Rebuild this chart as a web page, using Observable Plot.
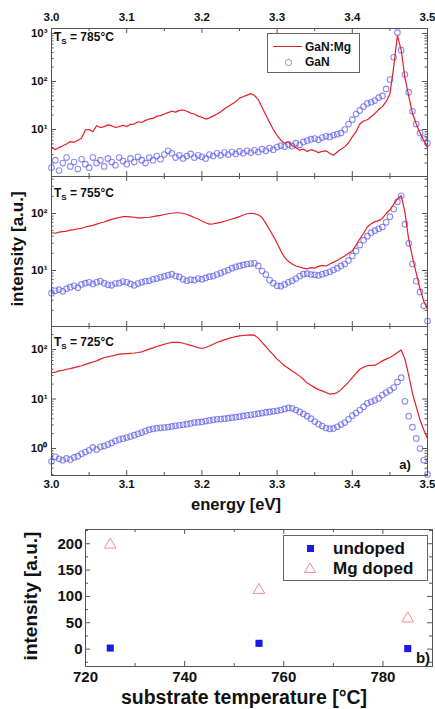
<!DOCTYPE html>
<html><head><meta charset="utf-8">
<script src="https://cdn.jsdelivr.net/npm/d3@7"></script>
<script src="https://cdn.jsdelivr.net/npm/@observablehq/plot@0.6"></script>
<style>
html,body{margin:0;padding:0;background:#fff;}
#root{position:relative;width:435px;height:709px;overflow:hidden;font-family:"Liberation Sans",Arial,sans-serif;font-weight:bold;color:#111;}
#root svg{position:absolute;left:0;overflow:visible;}
.lbl{position:absolute;white-space:nowrap;line-height:1;}
</style></head><body><div id="root"></div>
<script>
// ---------- data ----------
const energy = [3.000,3.005,3.010,3.015,3.020,3.025,3.030,3.035,3.040,3.045,
3.050,3.055,3.060,3.065,3.070,3.075,3.080,3.085,3.090,3.095,
3.100,3.105,3.110,3.115,3.120,3.125,3.130,3.135,3.140,3.145,
3.150,3.155,3.160,3.165,3.170,3.175,3.180,3.185,3.190,3.195,
3.200,3.205,3.210,3.215,3.220,3.225,3.230,3.235,3.240,3.245,
3.250,3.255,3.260,3.265,3.270,3.275,3.280,3.285,3.290,3.295,
3.300,3.305,3.310,3.315,3.320,3.325,3.330,3.335,3.340,3.345,
3.350,3.355,3.360,3.365,3.370,3.375,3.380,3.385,3.390,3.395,
3.400,3.405,3.410,3.415,3.420,3.425,3.430,3.435,3.440,3.445,
3.450,3.455,3.460,3.465,3.470,3.475,3.480,3.485,3.490,3.495,3.500];

// Ts = 785 °C
const mg785 = [4.4,3.8,4.2,4.6,5.0,5.6,5.4,6.0,6.6,9.8,
10.0,9.0,12.0,11.0,11.5,12.5,12.0,11.0,11.5,12.3,
11.5,12.8,13.0,14.5,14.0,15.5,16.6,17.0,19.0,19.5,
21.0,22.5,24.0,23.0,25.0,25.5,24.0,22.0,21.0,19.0,
18.0,16.5,17.5,19.0,21.0,23.5,27.0,30.0,34.0,38.0,
45.0,48.0,52.0,56.0,51.0,42.0,29.0,20.0,14.0,10.0,
7.5,6.0,5.2,5.5,4.6,4.2,3.7,3.9,3.5,3.8,
3.6,3.3,3.5,3.6,3.2,2.9,3.4,3.9,4.4,5.3,
7.0,9.0,13.0,15.0,16.0,18.5,21.5,26.0,30.0,38.0,
55.0,200.0,900.0,450.0,120.0,50.0,22.0,13.0,8.5,6.0,4.2];
const gan785 = [1.6,2.3,1.4,2.0,2.6,1.7,2.1,1.5,2.4,1.9,
1.6,2.6,2.0,2.3,1.7,2.5,2.1,1.8,2.6,2.2,
1.9,2.5,2.1,2.7,2.3,2.0,2.6,2.3,2.8,2.4,
3.0,3.6,3.2,2.6,2.9,2.5,2.8,3.1,2.6,2.9,
2.7,2.5,3.0,2.8,3.2,2.9,3.3,3.0,3.4,3.1,
3.5,3.2,3.6,3.3,3.7,3.4,3.9,3.6,4.1,3.8,
4.3,4.6,4.4,4.9,4.5,5.2,4.8,5.5,5.9,6.3,
6.5,6.1,6.8,7.2,7.0,7.6,8.0,8.5,10.0,13.0,
16.0,21.0,25.0,30.0,35.0,37.0,40.0,46.0,50.0,70.0,
110.0,320.0,1050.0,450.0,140.0,60.0,24.0,13.0,8.5,6.5,5.2];

// Ts = 755 °C
const mg755 = [46,45,47,48,49,51,52,54,55,58,
60,62,65,68,71,75,79,82,85,88,
88,87,86,84,84,85,86,88,91,93,
96,99,101,103,103,100,97,91,85,80,
74,69,65,66,68,70,73,76,80,84,
88,94,99,101,99,95,85,67,52,40,
30,22,17,14.5,13,12,11.5,11,10.7,11.2,
11,11.8,12.3,12,13,14,15,16.5,18,20,
22,28,36,45,58,66,72,75,82,100,
115,145,180,205,105,35,17,9,4.8,2.9,2.1];
const gan755 = [4.0,4.4,4.6,4.3,4.8,5.1,5.4,5.0,5.7,6.0,
6.2,5.8,6.2,6.5,6.0,5.6,5.5,5.9,6.0,6.4,
6.2,5.8,5.5,5.9,6.2,6.5,6.6,7.0,7.2,7.6,
7.9,8.3,8.6,8.0,7.7,7.0,6.6,6.9,6.8,7.2,
7.0,7.4,7.8,8.0,8.5,9.0,9.6,10.2,11.0,11.6,
12.0,12.5,13.0,13.2,13.4,12.0,9.8,8.5,6.8,6.0,
5.4,5.3,5.7,6.2,6.6,7.2,8.0,8.6,8.8,8.5,
8.4,8.2,8.6,9.0,9.5,10.2,11.0,12.0,13.0,15.0,
18.0,22.0,28.0,34.0,40.0,46.0,50.0,54.0,58.0,70.0,
88.0,120.0,160.0,205.0,65.0,30.0,13.0,6.5,4.2,2.4,1.3];

// Ts = 725 °C
const mg725 = [34,35,37,38,40,41,43,45,47,50,
53,56,59,64,69,71,74,77,81,82,
83,84,85,87,90,96,102,108,115,121,
128,134,139,140,139,134,128,121,115,109,
105,110,118,128,139,148,157,166,175,182,
189,192,195,197,195,170,139,115,94,78,
64,55,47,42,37,33,29,25,21,19,
17,15.5,14.6,13.5,12.6,12.8,13.5,15.5,18.5,22,
27,33,40,44,47,48,48,53,59,64,
69,77,87,98,64,30,13,7,3.8,2.4,1.6];
const gan725 = [0.55,0.68,0.62,0.58,0.63,0.60,0.66,0.70,0.78,0.85,
0.92,1.05,0.95,1.08,1.12,1.20,1.30,1.42,1.52,1.58,
1.66,1.75,1.86,1.98,2.10,2.25,2.40,2.50,2.58,2.62,
2.66,2.72,2.80,2.88,2.95,3.02,3.10,3.22,3.35,3.40,
3.45,3.58,3.70,3.80,3.90,3.95,4.00,4.10,4.20,4.30,
4.40,4.55,4.70,4.80,4.90,5.05,5.20,5.35,5.50,5.65,
5.80,6.00,6.30,6.60,6.50,6.00,5.50,5.00,4.50,4.00,
3.50,3.10,2.85,2.60,2.50,2.55,2.75,3.05,3.35,3.90,
4.60,5.20,6.00,7.00,8.20,8.80,9.40,10.3,12.0,13.5,
15.0,17.0,22.0,27.0,9.0,4.5,2.7,1.6,1.0,0.58,0.30];

// panel b
const temps = [725, 755, 785];
const undoped = [2, 11, 1];
const mgDoped = [198, 112, 58];

// tick labels
const energyTicks = [3.0, 3.1, 3.2, 3.3, 3.4, 3.5];
const energyMinor = [3.05, 3.15, 3.25, 3.35, 3.45];
const ticks785 = [10, 100, 1000];
const ticks755 = [10, 100];
const ticks725 = [1, 10, 100];
const tempTicks = [720, 740, 760, 780];
const tempMinor = [730, 750, 770, 790];
const intTicks = [0, 50, 100, 150, 200];
const intMinor = [-25, 25, 75, 125, 175, 225];

// ---------- drawing ----------
const root = document.getElementById("root");
const W = 435, ML = 51, MR = 8, IW = W - ML - MR;
const FRAME = "#555";
const BLUE = "#5050e8";
const RED = "#e41e26";
const sup = {"0": "\u2070", "1": "\u00b9", "2": "\u00b2", "3": "\u00b3"};
const logFmt = d => "10" + sup[String(Math.round(Math.log10(d)))];

function minorLog(domain) {
  const out = [];
  for (let k = Math.floor(Math.log10(domain[0])); k <= Math.ceil(Math.log10(domain[1])); k++)
    for (let m = 2; m <= 9; m++) {
      const v = m * Math.pow(10, k);
      if (v > domain[0] && v < domain[1]) out.push(v);
    }
  return out;
}

function panel({red, blue, domain, yTicks, top, bottom, mt, mb, xAxis}) {
  const ih = bottom - top;
  const rows = energy.map((e, i) => ({e, red: red[i], blue: blue[i]}));
  const yMinor = minorLog(domain);
  const svg = Plot.plot({
    width: W, height: ih + mt + mb,
    marginLeft: ML, marginRight: MR, marginTop: mt, marginBottom: mb,
    style: {background: "transparent", fontFamily: "'Liberation Sans', Arial, sans-serif", fontSize: "11.5px", fontWeight: "bold", color: "#111", overflow: "visible"},
    x: {domain: [3.0, 3.5], axis: xAxis, ticks: energyTicks, tickFormat: d3.format(".1f"), tickSize: 0, tickPadding: xAxis === "top" ? 8 : 4, label: null},
    y: {type: "log", domain, ticks: yTicks, tickFormat: logFmt, tickSize: 0, tickPadding: 4, label: null},
    marks: [
      Plot.dot(rows, {x: "e", y: "blue", r: 2.8, stroke: BLUE, strokeOpacity: 0.65, strokeWidth: 1.1, fill: "none"}),
      Plot.line(rows, {x: "e", y: "red", stroke: RED, strokeWidth: 1.2}),
      Plot.tickY(yTicks, {y: d => d, insetRight: IW - 5, stroke: FRAME}),
      Plot.tickY(yTicks, {y: d => d, insetLeft: IW - 5, stroke: FRAME}),
      Plot.tickY(yMinor, {y: d => d, insetRight: IW - 2.5, stroke: FRAME}),
      Plot.tickY(yMinor, {y: d => d, insetLeft: IW - 2.5, stroke: FRAME}),
      Plot.tickX(energyTicks, {x: d => d, insetBottom: ih - 5, stroke: FRAME}),
      Plot.tickX(energyTicks, {x: d => d, insetTop: ih - 5, stroke: FRAME}),
      Plot.tickX(energyMinor, {x: d => d, insetBottom: ih - 3, stroke: FRAME}),
      Plot.tickX(energyMinor, {x: d => d, insetTop: ih - 3, stroke: FRAME}),
      Plot.frame({stroke: FRAME})
    ]
  });
  svg.style.top = (top - mt) + "px";
  root.appendChild(svg);
}

panel({red: mg785, blue: gan785, domain: [1.05, 1270], yTicks: ticks785, top: 28, bottom: 176, mt: 28, mb: 4, xAxis: "top"});
panel({red: mg755, blue: gan755, domain: [1.04, 446], yTicks: ticks755, top: 176, bottom: 326, mt: 4, mb: 4, xAxis: null});
panel({red: mg725, blue: gan725, domain: [0.285, 292], yTicks: ticks725, top: 326, bottom: 475, mt: 4, mb: 22, xAxis: "bottom"});

// panel b scatter
{
  const top = 529, bottom = 666, mt = 6, mb = 43, ml = 85, mr = 3;
  const ih = bottom - top, iw = W - ml - mr;
  const rowsU = temps.map((t, i) => ({t, v: undoped[i]}));
  const rowsM = temps.map((t, i) => ({t, v: mgDoped[i]}));
  const svg = Plot.plot({
    width: W, height: ih + mt + mb,
    marginLeft: ml, marginRight: mr, marginTop: mt, marginBottom: mb,
    style: {background: "transparent", fontFamily: "'Liberation Sans', Arial, sans-serif", fontSize: "15px", fontWeight: "bold", color: "#111", overflow: "visible"},
    x: {domain: [720, 790], ticks: tempTicks, tickSize: 0, tickPadding: 5, tickFormat: d => String(d), label: null},
    y: {domain: [-33, 227], ticks: intTicks, tickSize: 0, tickPadding: 3, tickFormat: d => String(d), label: null},
    marks: [
      Plot.tickY(intTicks, {y: d => d, insetRight: iw - 5, stroke: FRAME}),
      Plot.tickY(intTicks, {y: d => d, insetLeft: iw - 5, stroke: FRAME}),
      Plot.tickY(intMinor, {y: d => d, insetRight: iw - 3, stroke: FRAME}),
      Plot.tickY(intMinor, {y: d => d, insetLeft: iw - 3, stroke: FRAME}),
      Plot.tickX(tempTicks, {x: d => d, insetBottom: ih - 5, stroke: FRAME}),
      Plot.tickX(tempTicks, {x: d => d, insetTop: ih - 5, stroke: FRAME}),
      Plot.tickX(tempMinor, {x: d => d, insetBottom: ih - 3, stroke: FRAME}),
      Plot.tickX(tempMinor, {x: d => d, insetTop: ih - 3, stroke: FRAME}),
      Plot.frame({stroke: FRAME}),
      Plot.dot(rowsM, {x: "t", y: "v", symbol: "triangle", r: 4.3, stroke: "#f08c8c", strokeWidth: 1, fill: "none"}),
      Plot.dot(rowsU, {x: "t", y: "v", symbol: "square", r: 4, fill: "#1a1ae8", stroke: "none"})
    ]
  });
  svg.style.top = (top - mt) + "px";
  root.appendChild(svg);
}

// ---------- text overlays ----------
function label(html, cx, cy, size, rotate) {
  const d = document.createElement("div");
  d.className = "lbl";
  d.innerHTML = html;
  d.style.fontSize = size + "px";
  d.style.left = cx + "px";
  d.style.top = cy + "px";
  d.style.transform = "translate(-50%,-50%)" + (rotate ? " rotate(-90deg)" : "");
  root.appendChild(d);
  return d;
}
function leftLabel(html, x, cy, size) {
  const d = document.createElement("div");
  d.className = "lbl";
  d.innerHTML = html;
  d.style.fontSize = size + "px";
  d.style.left = x + "px";
  d.style.top = cy + "px";
  d.style.transform = "translateY(-50%)";
  root.appendChild(d);
  return d;
}
const ts = t => `T<span style="font-size:8px;position:relative;top:3px">S</span> = ${t}°C`;
leftLabel(ts(785), 54, 37, 12);
leftLabel(ts(755), 54, 193, 12);
leftLabel(ts(725), 54, 342, 12);

label("intensity [a.u.]", 17, 249, 17, true);
label("energy [eV]", 236, 504, 16.5);
label("a)", 405, 464, 13);

// legend a
{
  const box = document.createElement("div");
  box.style.cssText = "position:absolute;left:267px;top:33px;width:91px;height:38px;border:1px solid #666;background:#fff;";
  root.appendChild(box);
  const ln = document.createElement("div");
  ln.style.cssText = `position:absolute;left:273px;top:46px;width:29px;height:0;border-top:1.5px solid ${RED};`;
  root.appendChild(ln);
  const c = document.createElement("div");
  c.style.cssText = "position:absolute;left:285px;top:59px;width:4.5px;height:4.5px;border:1.1px solid rgba(80,80,232,0.65);border-radius:50%;";
  root.appendChild(c);
  leftLabel("GaN:Mg", 305, 47, 12);
  leftLabel("GaN", 305, 62, 12);
}

// panel b labels
label("intensity [a.u.]", 30, 596, 19, true);
label("substrate temperature [°C]", 244, 698, 19.5);
label("b)", 423, 657, 15);
{
  const box = document.createElement("div");
  box.style.cssText = "position:absolute;left:283px;top:535px;width:143px;height:44px;border:1px solid #666;background:#fff;";
  root.appendChild(box);
  const sq = document.createElement("div");
  sq.style.cssText = "position:absolute;left:306.5px;top:544.5px;width:7px;height:7px;background:#1a1ae8;";
  root.appendChild(sq);
  const tri = document.createElementNS("http://www.w3.org/2000/svg", "svg");
  tri.setAttribute("width", 14); tri.setAttribute("height", 12);
  tri.style.cssText = "position:absolute;left:303px;top:562px;overflow:visible;";
  tri.innerHTML = '<path d="M7,1 L12.5,10.5 L1.5,10.5 Z" fill="none" stroke="#f08c8c" stroke-width="1"/>';
  root.appendChild(tri);
  leftLabel("undoped", 333, 548, 17);
  leftLabel("Mg doped", 333, 568, 17);
}
</script></body></html>
